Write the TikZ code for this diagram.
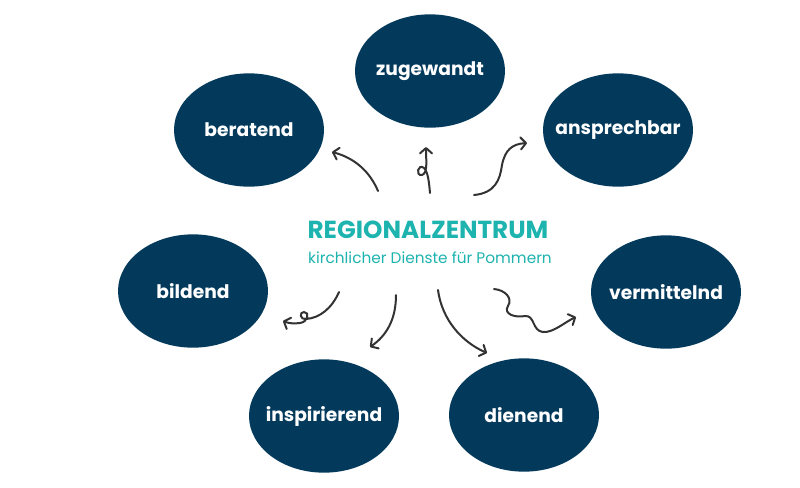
\documentclass[tikz,border=0pt]{standalone}
\usepackage{fontspec}
\setmainfont{Poppins}
\usetikzlibrary{shapes.geometric,arrows.meta}
\definecolor{navy}{HTML}{033A5C}
\definecolor{teal}{HTML}{1DB3AE}
\definecolor{ink}{HTML}{333333}
\newcommand\tword[1]{\makebox[0pt]{#1}}
\begin{document}
\begin{tikzpicture}[x=0.75pt,y=-0.75pt,
  trait node/.style={ellipse,fill=navy,text=white,inner sep=0pt,
    minimum width=112.5pt,minimum height=85pt,font=\fontsize{14}{17}\selectfont\bfseries},
  hand/.style={ink,line width=1.5pt,line cap=round,
    -{Straight Barb[length=4pt,width=9pt,line cap=round,line join=round]}}]

  \useasboundingbox (0,0) rectangle (800,487);

  \node[trait node] (zug) at (430,71) {\tword{zugewandt}};
  \node[trait node] (ber) at (249,130) {\tword{beratend}};
  \node[trait node] (ans) at (618,130) {\tword{ansprechbar}};
  \node[trait node] (bil) at (193,291) {\tword{bildend}};
  \node[trait node] (ver) at (666,292) {\tword{vermittelnd}};
  \node[trait node] (ins) at (324,416) {\tword{inspirierend}};
  \node[trait node] (die) at (524,415) {\tword{dienend}};

  \node[text=teal,font=\fontsize{18.5}{21}\selectfont\bfseries] (title) at (428,230) {REGIONALZENTRUM};
  \node[text=teal,font=\fontsize{11.5}{13}\selectfont] (sub) at (430,258) {kirchlicher Dienste für Pommern};

  % free ends of the arrows
  \coordinate (s1) at (378,191); \coordinate (e1) at (332,152);
  \coordinate (s2) at (430,193); \coordinate (e2) at (426,147);
  \coordinate (s3) at (474,195); \coordinate (e3) at (527,143);
  \coordinate (s4) at (339,292); \coordinate (e4) at (283,321);
  \coordinate (s5) at (396,295); \coordinate (e5) at (370,347);
  \coordinate (s6) at (438,290); \coordinate (e6) at (487,353);
  \coordinate (s7) at (494,289); \coordinate (e7) at (576,317);

  \draw[hand] (s1) .. controls (370,172) and (355,158) .. (e1);
  \draw[hand] (s2) .. controls (429,182) and (428,172) .. (424,168)
    .. controls (418,163) and (415,176) .. (422,175)
    .. controls (428,173) and (426,160) .. (e2);
  \draw[hand] (s3) .. controls (495,193) and (500,180) .. (502,165)
    .. controls (505,150) and (512,144) .. (e3);
  \draw[hand] (s4) .. controls (332,308) and (320,318) .. (306,319)
    .. controls (300,320) and (299,312) .. (304,312)
    .. controls (310,312) and (308,322) .. (300,323)
    .. controls (293,324) and (288,323) .. (e4);
  \draw[hand] (s5) .. controls (396,320) and (386,336) .. (e5);
  \draw[hand] (s6) .. controls (442,320) and (462,342) .. (e6);
  \draw[hand] (s7) .. controls (505,290) and (513,298) .. (508,306)
    .. controls (503,314) and (515,318) .. (525,316)
    .. controls (535,315) and (532,331) .. (543,332)
    .. controls (553,333) and (565,322) .. (e7);
\end{tikzpicture}
\end{document}
